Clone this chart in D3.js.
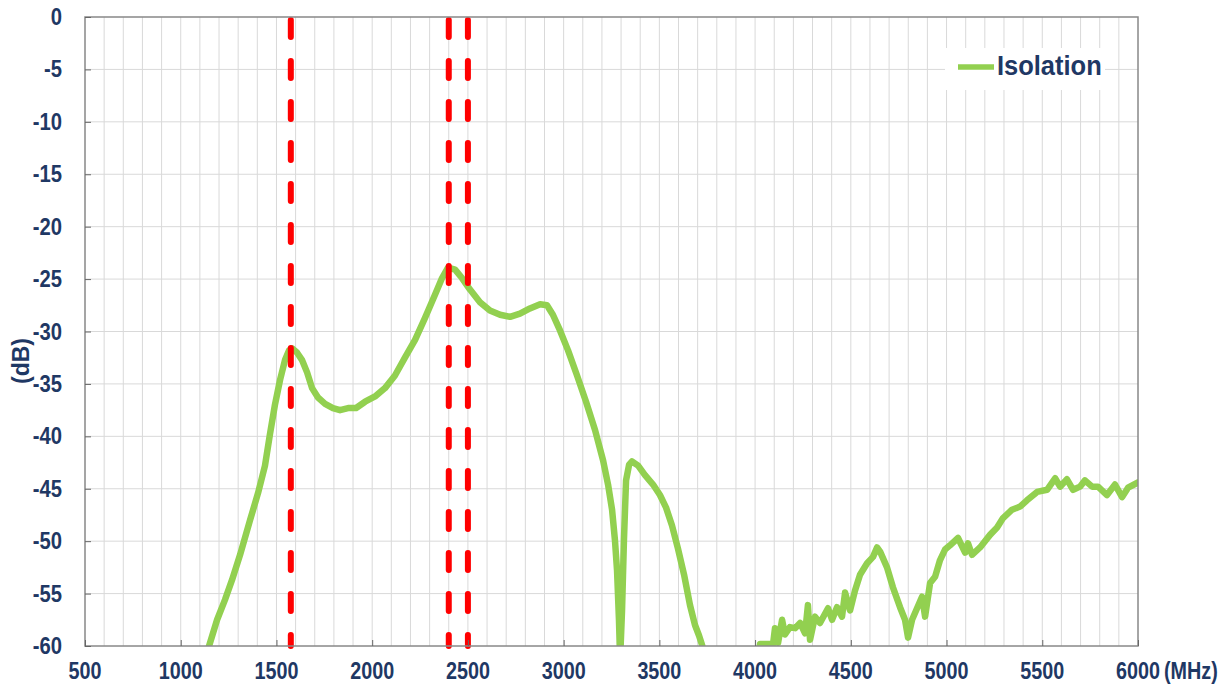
<!DOCTYPE html>
<html>
<head>
<meta charset="utf-8">
<script src="https://cdn.jsdelivr.net/npm/d3@7"></script>
<style>
  html, body { margin: 0; padding: 0; background: #fff; }
  svg { display: block; }
</style>
</head>
<body>
<script>
// ---- data ----
const seriesName = "Isolation";
const freqMHz = [1148,1190,1231,1268,1310,1362,1404,1440,1466,1492,1519,1545,1566,1581,1607,1633,1660,1686,1717,1754,1795,1832,1874,1916,1963,2015,2067,2119,2171,2224,2276,2328,2365,2396,2433,2469,2511,2563,2615,2668,2720,2772,2824,2877,2913,2944,2981,3023,3070,3117,3164,3206,3232,3253,3268,3279,3289,3295,3305,3315,3326,3342,3357,3389,3425,3467,3503,3535,3566,3597,3629,3660,3686,3707,3723,3738,3800,3900,4000,4026,4094,4104,4120,4141,4156,4182,4209,4235,4261,4276,4287,4313,4339,4381,4402,4428,4454,4470,4496,4522,4548,4585,4616,4637,4653,4689,4720,4757,4783,4799,4820,4846,4872,4888,4914,4940,4966,4992,5018,5060,5097,5112,5133,5175,5227,5264,5295,5342,5384,5420,5473,5525,5567,5593,5629,5661,5697,5723,5760,5791,5838,5880,5917,5948,6000];
const isolationDb = [-60,-57.5,-55.6,-53.7,-51.3,-48.0,-45.4,-42.8,-39.8,-37.0,-34.6,-32.7,-31.8,-31.6,-32.0,-32.7,-33.9,-35.4,-36.3,-36.9,-37.3,-37.5,-37.3,-37.3,-36.7,-36.2,-35.4,-34.2,-32.5,-30.8,-28.7,-26.5,-24.9,-23.9,-24.1,-24.9,-26.0,-27.2,-28.0,-28.4,-28.6,-28.3,-27.8,-27.4,-27.5,-28.4,-29.9,-31.8,-34.2,-36.7,-39.4,-42.3,-44.6,-47.0,-49.9,-52.8,-57.5,-61.3,-56.6,-49.9,-44.2,-42.7,-42.4,-42.8,-43.7,-44.6,-45.6,-46.8,-48.5,-50.7,-53.2,-56.1,-58.0,-59.0,-59.9,-61.3,-65,-66,-63,-59.8,-59.8,-58.3,-59.7,-57.5,-58.9,-58.2,-58.3,-57.8,-58.8,-56.1,-59.4,-57.2,-57.8,-56.4,-57.5,-56.3,-57.2,-54.9,-56.6,-54.7,-53.2,-52.1,-51.5,-50.6,-51.0,-52.5,-54.4,-56.3,-57.5,-59.2,-57.5,-56.4,-55.3,-57.2,-54.0,-53.4,-51.8,-50.8,-50.4,-49.7,-51.1,-50.2,-51.3,-50.6,-49.4,-48.7,-47.8,-47.0,-46.7,-46.1,-45.3,-45.1,-44.0,-44.8,-44.1,-45.1,-44.8,-44.2,-44.8,-44.8,-45.6,-44.6,-45.8,-44.9,-44.4];
const markerFreqs = [1575, 2400, 2500];
const xTicks = [500,1000,1500,2000,2500,3000,3500,4000,4500,5000,5500,6000];
const yTicks = [0,-5,-10,-15,-20,-25,-30,-35,-40,-45,-50,-55,-60];
const xUnit = "(MHz)";
const yUnit = "(dB)";

// ---- layout ----
const W = 1232, H = 690;
const L = 85, T = 17, R = 1138, B = 646;
const navy = "#1F3864";
const font = "'Liberation Sans', Arial, sans-serif";

const svg = d3.select("body").append("svg").attr("width", W).attr("height", H);

const x = d3.scaleLinear().domain([500, 6000]).range([L, R]);
const y = d3.scaleLinear().domain([-60, 0]).range([B, T]);

// gridlines
const g = svg.append("g");
g.selectAll("line.vx").data(d3.range(600, 6000, 100)).join("line")
  .attr("x1", d => x(d)).attr("x2", d => x(d)).attr("y1", T).attr("y2", B)
  .attr("stroke", "#d9d9d9").attr("stroke-width", 1);
g.selectAll("line.hy").data(yTicks.filter(v => v > -60 && v < 0)).join("line")
  .attr("x1", L).attr("x2", R).attr("y1", d => y(d)).attr("y2", d => y(d))
  .attr("stroke", "#d9d9d9").attr("stroke-width", 1);

// legend background (hides gridlines)
svg.append("rect").attr("x", 945).attr("y", 48).attr("width", 160).attr("height", 42).attr("fill", "#fff");

// clip
svg.append("clipPath").attr("id", "plot").append("rect")
  .attr("x", L).attr("y", T).attr("width", R - L).attr("height", B - T);

// series
const pts = freqMHz.map((f, i) => [f, isolationDb[i]]);
const line = d3.line().x(d => x(d[0])).y(d => y(d[1]));
svg.append("path").datum(pts).attr("clip-path", "url(#plot)")
  .attr("d", line).attr("fill", "none").attr("stroke", "#92D050")
  .attr("stroke-width", 6.5).attr("stroke-linejoin", "round").attr("stroke-linecap", "round");

// marker lines
svg.selectAll("line.mk").data(markerFreqs).join("line")
  .attr("x1", d => x(d)).attr("x2", d => x(d)).attr("y1", T + 3).attr("y2", B)
  .attr("stroke", "#FF0000").attr("stroke-width", 6)
  .attr("stroke-dasharray", "17,24").attr("stroke-linecap", "round");

// border
svg.append("rect").attr("x", L).attr("y", T).attr("width", R - L).attr("height", B - T)
  .attr("fill", "none").attr("stroke", "#888").attr("stroke-width", 1.5);

// axes ticks (inside)
svg.append("g").attr("transform", `translate(0,${B})`)
  .call(d3.axisBottom(x).tickValues(xTicks).tickSize(-6).tickFormat(""))
  .call(a => a.select(".domain").remove())
  .call(a => a.selectAll("line").attr("stroke", "#666"));
svg.append("g").attr("transform", `translate(${L},0)`)
  .call(d3.axisLeft(y).tickValues(yTicks).tickSize(-6).tickFormat(""))
  .call(a => a.select(".domain").remove())
  .call(a => a.selectAll("line").attr("stroke", "#666"));

// labels
function label(txt, px, py, size, anchor, sx) {
  return svg.append("text")
    .attr("transform", `translate(${px},${py}) scale(${sx},1)`)
    .attr("text-anchor", anchor)
    .attr("font-family", font).attr("font-weight", "bold")
    .attr("font-size", size).attr("fill", navy)
    .text(txt);
}
xTicks.forEach(v => label(String(v), x(v), 679, 23, "middle", 0.86));
yTicks.forEach(v => label(String(v), 62, y(v) + 8, 23, "end", 0.88));
label(xUnit, 1164, 679, 23, "start", 0.86);

svg.append("text")
  .attr("transform", `translate(29,361) rotate(-90)`)
  .attr("text-anchor", "middle")
  .attr("font-family", font).attr("font-weight", "bold")
  .attr("font-size", 23).attr("fill", navy)
  .text(yUnit);

// legend
svg.append("line").attr("x1", 958).attr("x2", 994).attr("y1", 67).attr("y2", 67)
  .attr("stroke", "#92D050").attr("stroke-width", 5.5);
label(seriesName, 997, 75, 28, "start", 0.91);
</script>
</body>
</html>
